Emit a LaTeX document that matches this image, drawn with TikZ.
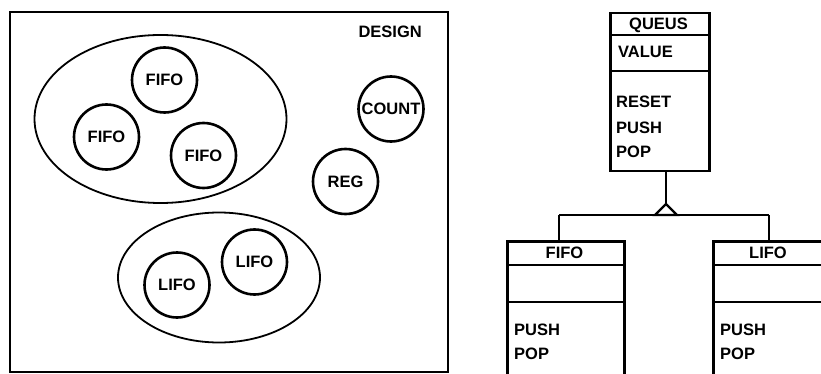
\documentclass[tikz,border=0pt]{standalone}
\usepackage{fontspec}
\setmainfont{Liberation Sans}
\usetikzlibrary{shapes.geometric}

\begin{document}
\begin{tikzpicture}[
  x=1pt, y=-1pt,
  font=\fontsize{16.5}{18}\selectfont\bfseries,
  inst/.style={draw, circle, line width=2.6pt, minimum size=65pt, inner sep=0pt},
  group/.style={draw, ellipse, line width=1.8pt, inner sep=0pt},
  cls/.style={draw, line width=2.5pt, anchor=north west, inner sep=0pt},
  sep/.style={line width=2.2pt},
  lbl/.style={anchor=west, inner sep=0pt},
  conn/.style={line width=2.2pt}
]
  \clip (0,0) rectangle (821,374);

  % Design frame
  \draw[line width=2.4pt] (10,12) rectangle (448,372);
  \node[anchor=east, inner sep=0pt] (design) at (422,32) {DESIGN};

  % Groups of instances
  \node[group, minimum width=252pt, minimum height=168pt] (fifos) at (160.5,119) {};
  \node[group, minimum width=202pt, minimum height=130pt] (lifos) at (219,277.5) {};

  % Instances
  \node[inst] (fifoA) at (164.5,80)   {FIFO};
  \node[inst] (fifoB) at (106.5,137)  {FIFO};
  \node[inst] (fifoC) at (203.5,155.5) {FIFO};
  \node[inst] (count) at (391,109)    {COUNT};
  \node[inst] (reg)   at (345.5,181.5) {REG};
  \node[inst] (lifoA) at (254.5,262)  {LIFO};
  \node[inst] (lifoB) at (177,285)    {LIFO};

  % Class QUEUS
  \node[cls, minimum width=99pt, minimum height=158pt] (queus) at (609,12) {};
  \draw[sep] ([yshift=-23pt]queus.north west) -- ([yshift=-23pt]queus.north east);
  \draw[sep] ([yshift=-59pt]queus.north west) -- ([yshift=-59pt]queus.north east);
  \node (qname) at (658.5,25) [inner sep=0pt] {QUEUS};
  \node[lbl] (qval)   at (618,52)  {VALUE};
  \node[lbl] (qreset) at (616,102) {RESET};
  \node[lbl] (qpush)  at (616,128) {PUSH};
  \node[lbl] (qpop)   at (616,152) {POP};

  % Class FIFO
  \node[cls, minimum width=117pt, minimum height=160pt] (fifo) at (506,240) {};
  \draw[sep] ([yshift=-25pt]fifo.north west) -- ([yshift=-25pt]fifo.north east);
  \draw[sep] ([yshift=-62pt]fifo.north west) -- ([yshift=-62pt]fifo.north east);
  \node (fname) at (564.5,253) [inner sep=0pt] {FIFO};
  \node[lbl] (fpush) at (514,330) {PUSH};
  \node[lbl] (fpop)  at (514,354) {POP};

  % Class LIFO
  \node[cls, minimum width=112pt, minimum height=160pt] (lifo) at (712,240) {};
  \draw[sep] ([yshift=-25pt]lifo.north west) -- ([yshift=-25pt]lifo.north east);
  \draw[sep] ([yshift=-62pt]lifo.north west) -- ([yshift=-62pt]lifo.north east);
  \node (lname) at (768,253) [inner sep=0pt] {LIFO};
  \node[lbl] (lpush) at (720,330) {PUSH};
  \node[lbl] (lpop)  at (720,354) {POP};

  % Inheritance
  \coordinate (apex) at (666,204);
  \coordinate (barL) at (559,215);
  \coordinate (barR) at (769,215);
  \draw[conn] (queus.south -| apex) -- (apex);
  \draw[conn] (apex) -- ++(-11,11) -- ++(22,0) -- cycle;
  \draw[conn] (barL) -- (barR);
  \draw[conn] (barL) -- (barL |- fifo.north);
  \draw[conn] (barR) -- (barR |- lifo.north);
\end{tikzpicture}
\end{document}
